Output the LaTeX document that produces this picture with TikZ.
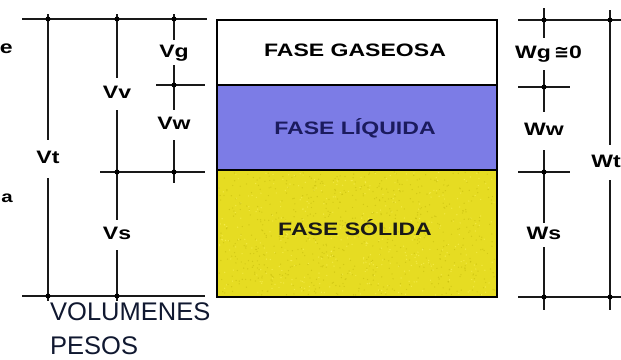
\documentclass[tikz,border=0pt]{standalone}
\usepackage{fontspec}
\setmainfont{Liberation Sans}
\newfontfamily\widebold[FakeStretch=1.28]{Liberation Sans Bold}
\newfontfamily\symfont{DejaVu Sans Bold}
\definecolor{liqblue}{HTML}{7C7CE6}
\definecolor{solyel}{HTML}{E6DC22}
\definecolor{navy}{HTML}{1B1B5E}
\definecolor{inkblue}{HTML}{101830}
\begin{document}
\begin{tikzpicture}[x=1pt,y=-1pt,
  dim/.style={line width=1.5pt,black!90},
  lab/.style={font=\widebold\fontsize{18}{18}\selectfont,text height=13pt,text depth=4pt,inner xsep=1pt,inner ysep=#1},
  lab/.default=6pt,
  phase/.style={font=\widebold\fontsize{18}{18}\selectfont},
  dot/.style={circle,fill=black,inner sep=0pt,minimum size=5pt}]
\useasboundingbox (0,0) rectangle (621,359);
% ---------- phases box ----------
\fill[white] (217,20) rectangle (497,85);
\fill[liqblue] (217,85) rectangle (497,170);
\fill[solyel] (217,170) rectangle (497,297);
\pgfmathsetseed{7}
\foreach \i in {1,...,700}{
  \pgfmathsetmacro\xx{219+276*rnd}
  \pgfmathsetmacro\yy{172+123*rnd}
  \fill[olive!70!yellow,opacity=0.35] (\xx,\yy) circle (0.7);
}
\foreach \i in {1,...,400}{
  \pgfmathsetmacro\xx{219+276*rnd}
  \pgfmathsetmacro\yy{172+123*rnd}
  \fill[yellow!60!white,opacity=0.5] (\xx,\yy) circle (0.7);
}
\draw[line width=2.2pt] (217,85) -- (497,85);
\draw[line width=2.2pt] (217,170) -- (497,170);
\draw[line width=2.2pt] (217,20) rectangle (497,297);
\node[phase] (gas) at (355,50) {FASE GASEOSA};
\node[phase,text=navy] (liq) at (355,128) {FASE LÍQUIDA};
\node[phase,text=black!90] (sol) at (355,228) {FASE SÓLIDA};
% ---------- left: volumes ----------
\coordinate (lt1) at (22,19);  \coordinate (lt2) at (207,19);
\coordinate (lb1) at (22,296); \coordinate (lb2) at (205,296);
\coordinate (lm1) at (156,85); \coordinate (lm2) at (205,85);
\coordinate (ln1) at (100,172);\coordinate (ln2) at (205,172);
\draw[dim] (lt1) -- (lt2);
\draw[dim] (lb1) -- (lb2);
\draw[dim] (lm1) -- (lm2);
\draw[dim] (ln1) -- (ln2);
\node[lab=10.5pt] (Vt) at (48,159) {Vt};
\node[lab=7.5pt]  (Vv) at (117,94) {Vv};
\node[lab=6.5pt]  (Vs) at (117,235) {Vs};
\node[lab=4pt]    (Vg) at (174,52.5) {Vg};
\node[lab=6.5pt]  (Vw) at (174,125) {Vw};
\coordinate (vt0) at (48,14);  \coordinate (vt1) at (48,301);
\coordinate (vv0) at (117,14); \coordinate (vv1) at (117,172);
\coordinate (vs1) at (117,301);
\coordinate (vg0) at (174,14); \coordinate (vg1) at (174,85);
\coordinate (vw1) at (174,172);\coordinate (vw2) at (174,183);
\draw[dim] (vt0) -- (Vt) -- (vt1);
\draw[dim] (vv0) -- (Vv) -- (vv1);
\draw[dim] (vv1) -- (Vs) -- (vs1);
\draw[dim] (vg0) -- (Vg) -- (vg1);
\draw[dim] (vg1) -- (Vw) -- (vw1) -- (vw2);
\foreach \p in {(48,19),(117,19),(174,19),(174,85),(117,172),(174,172),(48,296),(117,296)}
  \node[dot] at \p {};
% ---------- right: weights ----------
\coordinate (rt1) at (518,20);  \coordinate (rt2) at (621,20);
\coordinate (rb1) at (518,297); \coordinate (rb2) at (621,297);
\coordinate (rm1) at (518,87);  \coordinate (rm2) at (570,87);
\coordinate (rn1) at (518,172); \coordinate (rn2) at (570,172);
\draw[dim] (rt1) -- (rt2);
\draw[dim] (rb1) -- (rb2);
\draw[dim] (rm1) -- (rm2);
\draw[dim] (rn1) -- (rn2);
\node[lab=7.5pt,anchor=west] (Wg) at (514,54) {Wg\,{\symfont\fontsize{18}{18}\selectfont≅}0};
\node[lab=10.5pt] (Ww) at (544,131) {Ww};
\node[lab=3.5pt]  (Ws) at (544,235) {Ws};
\node[lab=9pt]    (Wt) at (606,162.5) {Wt};
\coordinate (w0) at (544,8);   \coordinate (wa) at (544,38);
\coordinate (wb) at (544,70);  \coordinate (w1) at (544,87);
\coordinate (w2) at (544,172); \coordinate (w3) at (544,310);
\coordinate (t0) at (610,10);  \coordinate (t1) at (610,310);
\draw[dim] (w0) -- (wa);
\draw[dim] (wb) -- (w1);
\draw[dim] (w1) -- (Ww) -- (w2);
\draw[dim] (w2) -- (Ws) -- (w3);
\draw[dim] (t0) -- (610,145);
\draw[dim] (610,180) -- (t1);
\foreach \p in {(544,20),(610,20),(544,87),(544,172),(544,297),(610,297)}
  \node[dot] at \p {};
% ---------- cut-off texts at left edge ----------
\node[font=\widebold\fontsize{18}{18}\selectfont,anchor=east,inner sep=0pt] (ce) at (13,49) {e};
\node[font=\widebold\fontsize{16}{16}\selectfont,anchor=east,inner sep=0pt] (ca) at (13,198) {a};
% ---------- captions ----------
\node[font=\fontsize{25.5}{25.5}\selectfont,text=inkblue,anchor=base west,inner sep=0pt] (vol) at (50,320) {VOLUMENES};
\node[font=\fontsize{25.5}{25.5}\selectfont,text=inkblue,anchor=base west,inner sep=0pt] (pes) at (50,354) {PESOS};
\end{tikzpicture}
\end{document}
